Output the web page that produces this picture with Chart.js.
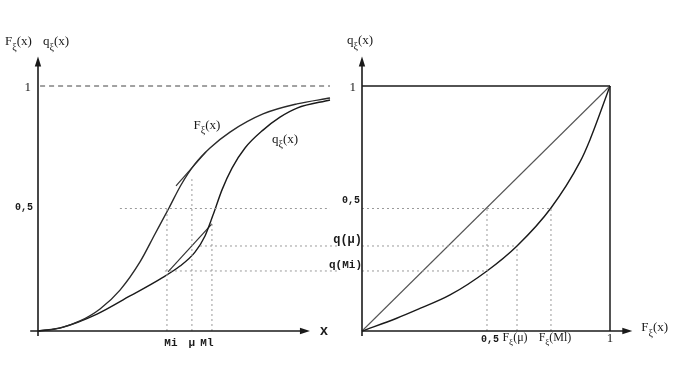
<!DOCTYPE html>
<html>
<head>
<meta charset="utf-8">
<script src="https://cdn.jsdelivr.net/npm/chart.js@4.4.1/dist/chart.umd.min.js"></script>
<style>
  html, body { margin: 0; padding: 0; background: #fff; }
  #wrap { position: relative; width: 680px; height: 380px; }
  #wrap canvas { position: absolute; left: 0; top: 0; }
</style>
</head>
<body>
<div id="wrap">
  <canvas id="leftChart" width="680" height="380"></canvas>
  <canvas id="rightChart" width="680" height="380"></canvas>
</div>
<script>
// left panel: distribution function F and q against x
const distX = [0, 0.846, 1.615, 2.385, 3.154, 3.923, 4.5, 5.038, 5.5, 6.038, 6.615, 7.385, 8.654, 9.962, 11.231];
const distF = [0, 0.012, 0.041, 0.09, 0.167, 0.282, 0.396, 0.502, 0.596, 0.682, 0.747, 0.812, 0.886, 0.927, 0.951];
const qX = [0, 0.962, 2.269, 3.538, 4.692, 5.462, 6.038, 6.423, 6.731, 7.077, 7.462, 7.962, 8.654, 9.308, 9.962, 11.231];
const qY = [0, 0.016, 0.069, 0.143, 0.212, 0.265, 0.322, 0.388, 0.473, 0.576, 0.665, 0.747, 0.82, 0.873, 0.91, 0.943];
const fTanX = [5.308, 6.462];
const fTanY = [0.592, 0.731];
const qTanX = [5.0, 6.69];
const qTanY = [0.241, 0.437];

// positions of Mi, mu, Ml on the x axis
const xTicks = [4.96, 5.92, 6.69];
const xTickLabels = ['Mi', 'μ', 'Ml'];
const qMu = 0.347;
const qMi = 0.245;

// right panel: q plotted against F
const mapF = [0, 0.14, 0.22, 0.355, 0.504, 0.625, 0.762, 0.879, 0.919, 1];
const mapQ = [0, 0.052, 0.086, 0.147, 0.245, 0.347, 0.502, 0.69, 0.78, 1];
const fMu = 0.625;
const fMl = 0.762;

const ink = '#1a1a1a';
const guide = '#9a9a9a';

function pts(xs, ys) {
    return xs.map((v, i) => ({ x: v, y: ys[i] }));
}

function seg(x1, y1, x2, y2, color, dash, width) {
    return {
        data: [{ x: x1, y: y1 }, { x: x2, y: y2 }],
        borderColor: color,
        borderWidth: width || 1,
        borderDash: dash || [],
        pointRadius: 0,
        clip: false,
    };
}

function curve(xs, ys, color) {
    return {
        data: pts(xs, ys),
        borderColor: color,
        borderWidth: 1.4,
        pointRadius: 0,
        cubicInterpolationMode: 'monotone',
        clip: false,
    };
}

function arrowUp(ctx, px, py) {
    ctx.beginPath();
    ctx.moveTo(px, py);
    ctx.lineTo(px - 3.2, py + 10);
    ctx.lineTo(px + 3.2, py + 10);
    ctx.closePath();
    ctx.fill();
}

function arrowRight(ctx, px, py) {
    ctx.beginPath();
    ctx.moveTo(px, py);
    ctx.lineTo(px - 10, py - 3.2);
    ctx.lineTo(px - 10, py + 3.2);
    ctx.closePath();
    ctx.fill();
}

function line(ctx, x1, y1, x2, y2) {
    ctx.beginPath();
    ctx.moveTo(x1, y1);
    ctx.lineTo(x2, y2);
    ctx.stroke();
}

// letter with a xi subscript, e.g. F_xi(x)
function subLabel(ctx, px, py, base, sub, rest, size, align) {
    ctx.save();
    const f1 = size + 'px "Liberation Serif"';
    const f2 = Math.round(size * 0.75) + 'px "Liberation Serif"';
    ctx.font = f1;
    const w1 = ctx.measureText(base).width;
    const w3 = ctx.measureText(rest).width;
    ctx.font = f2;
    const w2 = ctx.measureText(sub).width;
    const total = w1 + w2 + w3;
    let x0 = px;
    if (align === 'center') x0 = px - total / 2;
    if (align === 'right') x0 = px - total;
    ctx.textAlign = 'left';
    ctx.textBaseline = 'middle';
    ctx.fillStyle = ink;
    ctx.font = f1;
    ctx.fillText(base, x0, py);
    ctx.font = f2;
    ctx.fillText(sub, x0 + w1, py + size * 0.38);
    ctx.font = f1;
    ctx.fillText(rest, x0 + w1 + w2, py);
    ctx.restore();
}

function text(ctx, str, px, py, font, align) {
    ctx.save();
    ctx.font = font;
    ctx.textAlign = align || 'center';
    ctx.textBaseline = 'middle';
    ctx.fillStyle = ink;
    ctx.fillText(str, px, py);
    ctx.restore();
}

const mono = 'bold 11px "Liberation Mono"';

const leftDecor = {
    id: 'leftDecor',
    afterDatasetsDraw(chart) {
        const { ctx, scales: { x, y } } = chart;
        const ox = x.getPixelForValue(0);
        const oy = y.getPixelForValue(0);
        ctx.save();
        ctx.strokeStyle = ink;
        ctx.fillStyle = ink;
        ctx.lineWidth = 1.6;
        line(ctx, ox, y.getPixelForValue(-0.02), ox, y.getPixelForValue(1.1));
        arrowUp(ctx, ox, y.getPixelForValue(1.12));
        line(ctx, x.getPixelForValue(-0.3), oy, x.getPixelForValue(10.2), oy);
        arrowRight(ctx, x.getPixelForValue(10.46), oy);
        ctx.restore();

        subLabel(ctx, ox - 33, 42, 'F', 'ξ', '(x)', 13, 'left');
        subLabel(ctx, ox + 5, 42, 'q', 'ξ', '(x)', 13, 'left');
        text(ctx, '1', ox - 7, y.getPixelForValue(1) + 2, '13px "Liberation Serif"', 'right');
        text(ctx, '0,5', ox - 5, y.getPixelForValue(0.5) - 1, 'bold 10px "Liberation Mono"', 'right');
        xTicks.forEach((v, i) => {
            text(ctx, xTickLabels[i], x.getPixelForValue(v) + (i === 0 ? 4 : i === 2 ? -5 : 0), oy + 12, mono, 'center');
        });
        text(ctx, 'x', x.getPixelForValue(10.46) + 14, oy, 'bold 14px "Liberation Mono"', 'center');
        subLabel(ctx, x.getPixelForValue(6.5), y.getPixelForValue(0.84), 'F', 'ξ', '(x)', 13, 'center');
        subLabel(ctx, x.getPixelForValue(9.5), y.getPixelForValue(0.78), 'q', 'ξ', '(x)', 13, 'center');
    }
};

const rightDecor = {
    id: 'rightDecor',
    afterDatasetsDraw(chart) {
        const { ctx, scales: { x, y } } = chart;
        const ox = x.getPixelForValue(0);
        const oy = y.getPixelForValue(0);
        ctx.save();
        ctx.strokeStyle = ink;
        ctx.fillStyle = ink;
        ctx.lineWidth = 1.6;
        line(ctx, ox, y.getPixelForValue(-0.02), ox, y.getPixelForValue(1.1));
        arrowUp(ctx, ox, y.getPixelForValue(1.12));
        line(ctx, ox, oy, x.getPixelForValue(1.06), oy);
        arrowRight(ctx, x.getPixelForValue(1.09), oy);
        ctx.restore();

        subLabel(ctx, ox - 2, 41, 'q', 'ξ', '(x)', 13, 'center');
        text(ctx, '1', ox - 6, y.getPixelForValue(1) + 2, '13px "Liberation Serif"', 'right');
        text(ctx, '0,5', ox - 2, y.getPixelForValue(0.5) - 8, 'bold 10px "Liberation Mono"', 'right');
        text(ctx, 'q(μ)', ox, y.getPixelForValue(qMu) - 6, 'bold 12px "Liberation Mono"', 'right');
        text(ctx, 'q(Mi)', ox, y.getPixelForValue(qMi) - 6, 'bold 11px "Liberation Mono"', 'right');

        text(ctx, '0,5', x.getPixelForValue(0.5) + 4, oy + 8, 'bold 10px "Liberation Mono"', 'center');
        subLabel(ctx, x.getPixelForValue(fMu) - 2, oy + 7, 'F', 'ξ', '(μ)', 12, 'center');
        subLabel(ctx, x.getPixelForValue(fMl) + 4, oy + 7, 'F', 'ξ', '(Ml)', 12, 'center');
        text(ctx, '1', x.getPixelForValue(1), oy + 8, '13px "Liberation Serif"', 'center');
        subLabel(ctx, x.getPixelForValue(1.09) + 9, oy - 3, 'F', 'ξ', '(x)', 13, 'left');
    }
};

function baseOptions(padLeft, padRight, xMax) {
    return {
        responsive: false,
        animation: false,
        events: [],
        layout: { padding: { left: padLeft, right: padRight, top: 56.6, bottom: 49 } },
        plugins: { legend: { display: false }, tooltip: { enabled: false } },
        scales: {
            x: { type: 'linear', min: 0, max: xMax, display: false },
            y: { type: 'linear', min: 0, max: 1.12, display: false },
        },
    };
}

new Chart(document.getElementById('leftChart'), {
    type: 'line',
    data: {
        datasets: [
            seg(0.08, 1, 11.23, 1, '#444', [5, 4], 1),
            seg(3.15, 0.5, 11.23, 0.5, guide, [2, 3]),
            seg(6.23, qMu, 11.6, qMu, guide, [2, 3]),
            seg(4.88, qMi, 11.6, qMi, guide, [2, 3]),
            seg(xTicks[0], 0, xTicks[0], 0.5, guide, [2, 3]),
            seg(xTicks[1], 0, xTicks[1], 0.62, guide, [2, 3]),
            seg(xTicks[2], 0, xTicks[2], 0.45, guide, [2, 3]),
            curve(distX, distF, '#2a2a2a'),
            curve(qX, qY, '#1a1a1a'),
            seg(fTanX[0], fTanY[0], fTanX[1], fTanY[1], '#333', [], 1.2),
            seg(qTanX[0], qTanY[0], qTanX[1], qTanY[1], '#333', [], 1.2),
        ],
    },
    options: baseOptions(38, 337.8, 11.7),
    plugins: [leftDecor],
});

new Chart(document.getElementById('rightChart'), {
    type: 'line',
    data: {
        datasets: [
            seg(0, 0.5, fMl, 0.5, guide, [2, 3]),
            seg(0, qMu, fMu, qMu, guide, [2, 3]),
            seg(0, qMi, 0.504, qMi, guide, [2, 3]),
            seg(0.504, 0, 0.504, 0.5, guide, [2, 3]),
            seg(fMu, 0, fMu, qMu, guide, [2, 3]),
            seg(fMl, 0, fMl, 0.5, guide, [2, 3]),
            seg(0, 1, 1, 1, ink, [], 1.5),
            seg(1, 0, 1, 1, ink, [], 1.5),
            seg(0, 0, 1, 1, '#555', [], 1.1),
            curve(mapF, mapQ, '#1a1a1a'),
        ],
    },
    options: baseOptions(362, 45.2, 1.1),
    plugins: [rightDecor],
});
</script>
</body>
</html>
